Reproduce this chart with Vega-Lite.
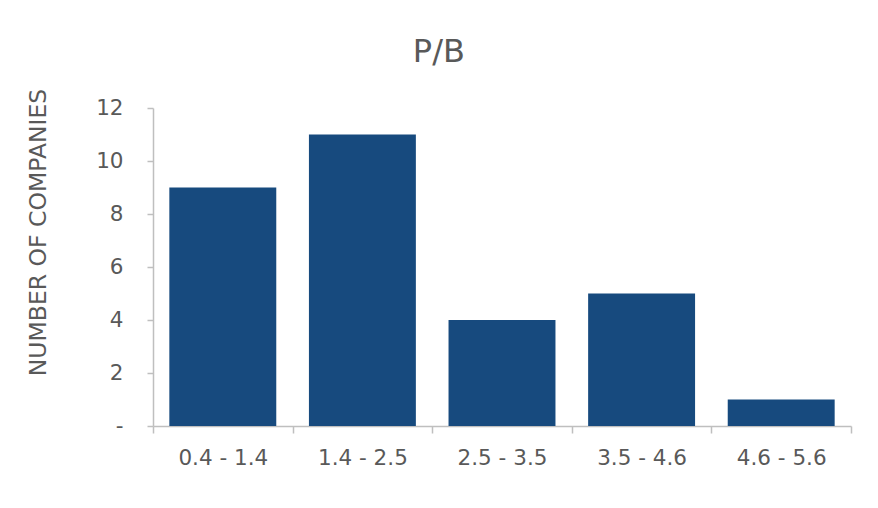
{
  "$schema": "https://vega.github.io/schema/vega-lite/v6.json",
  "width": 698,
  "height": 318,
  "autosize": {"type": "none"},
  "padding": {"left": 153, "top": 108, "right": 27, "bottom": 82},
  "background": "white",
  "title": {
    "text": "P/B",
    "font": "DejaVu Sans",
    "fontSize": 32,
    "fontWeight": "normal",
    "color": "#595959",
    "anchor": "middle",
    "frame": "bounds",
    "baseline": "alphabetic",
    "offset": -2,
    "dy": 4
  },
  "data": {
    "values": [
      {"range": "0.4 - 1.4", "count": 9},
      {"range": "1.4 - 2.5", "count": 11},
      {"range": "2.5 - 3.5", "count": 4},
      {"range": "3.5 - 4.6", "count": 5},
      {"range": "4.6 - 5.6", "count": 1}
    ]
  },
  "mark": {"type": "bar", "color": "#174a7e", "width": {"band": 0.766}},
  "encoding": {
    "x": {
      "field": "range",
      "type": "nominal",
      "sort": null,
      "scale": {"paddingInner": 0, "paddingOuter": 0},
      "axis": {
        "title": null,
        "labelAngle": 0,
        "labelFont": "DejaVu Sans",
        "labelFontSize": 21.5,
        "labelColor": "#595959",
        "labelPadding": 14,
        "tickBand": "extent",
        "tickSize": 7,
        "tickColor": "#bfbfbf",
        "domainColor": "#bfbfbf",
        "tickWidth": 1.5,
        "domainWidth": 1.5
      }
    },
    "y": {
      "field": "count",
      "type": "quantitative",
      "scale": {"domain": [0, 12]},
      "axis": {
        "title": "NUMBER OF COMPANIES",
        "titleFont": "DejaVu Sans",
        "titleFontSize": 23.5,
        "titleFontWeight": "normal",
        "titleColor": "#595959",
        "titleX": -115,
        "titleY": 124,
        "titleAngle": -90,
        "titleAlign": "center",
        "titleBaseline": "middle",
        "values": [0, 2, 4, 6, 8, 10, 12],
        "labelExpr": "datum.value == 0 ? '-\u00a0\u00a0' : datum.label",
        "labelFont": "DejaVu Sans",
        "labelFontSize": 21.5,
        "labelColor": "#595959",
        "labelPadding": 24,
        "tickSize": 6,
        "tickColor": "#bfbfbf",
        "domainColor": "#bfbfbf",
        "tickWidth": 1.5,
        "domainWidth": 1.5,
        "grid": false
      }
    }
  },
  "config": {"view": {"stroke": null}}
}
